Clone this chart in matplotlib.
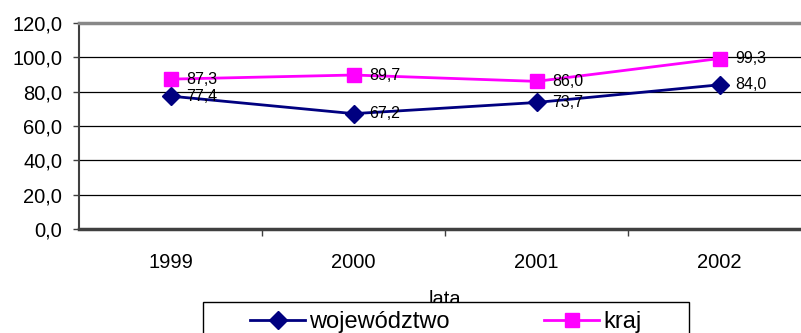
import matplotlib.pyplot as plt
from matplotlib.patches import Rectangle
from matplotlib.ticker import FixedLocator, FuncFormatter

plt.rcParams['font.family'] = ['Liberation Sans', 'DejaVu Sans']

lata = ['1999', '2000', '2001', '2002']
wojewodztwo = [77.4, 67.2, 73.7, 84.0]
kraj = [87.3, 89.7, 86.0, 99.3]


def przecinek(v):
    return f"{v:.1f}".replace('.', ',')


fig = plt.figure(figsize=(8.01, 3.33), dpi=100)
W, H = 801, 333
ax = fig.add_axes([79 / W, (H - 229) / H, 732 / W, 206 / H])

x = range(len(lata))
ax.plot(x, wojewodztwo, color='#000080', lw=2, marker='D', markersize=9,
        label='województwo', zorder=3)
ax.plot(x, kraj, color='#FF00FF', lw=2, marker='s', markersize=10,
        label='kraj', zorder=3)

# etykiety danych
for i in x:
    ax.annotate(przecinek(wojewodztwo[i]), (i, wojewodztwo[i]), xytext=(11, 0),
                textcoords='offset points', va='center', ha='left', fontsize=11.5)
    ax.annotate(przecinek(kraj[i]), (i, kraj[i]), xytext=(11, 0),
                textcoords='offset points', va='center', ha='left', fontsize=11.5)

ax.set_xlim(-0.5, len(lata) - 0.5)
ax.set_ylim(0, 120)
ax.set_yticks(range(0, 121, 20))
ax.yaxis.set_major_formatter(FuncFormatter(lambda v, p: przecinek(v)))
ax.grid(axis='y', color='black', lw=0.9)
ax.set_axisbelow(True)

# kreski między kategoriami, etykiety w środku
ax.xaxis.set_major_locator(FixedLocator([0.5, 1.5, 2.5, 3.5]))
ax.xaxis.set_major_formatter(FuncFormatter(lambda v, p: ''))
ax.xaxis.set_minor_locator(FixedLocator(list(x)))
ax.set_xticklabels(lata, minor=True)
ax.tick_params(axis='x', which='major', length=5, width=1, color='#404040', direction='out')
ax.tick_params(axis='x', which='minor', length=0, pad=17, labelsize=14.5)
ax.tick_params(axis='y', length=4, width=1, color='#404040', pad=8, labelsize=14.5)

ax.spines['top'].set_color('#888888')
ax.spines['top'].set_linewidth(2.5)
ax.spines['left'].set_color('#404040')
ax.spines['left'].set_linewidth(1.5)
ax.spines['bottom'].set_color('#404040')
ax.spines['bottom'].set_linewidth(2.5)
ax.spines['right'].set_visible(False)

ax.set_xlabel('lata', fontsize=14.5, labelpad=13)

# ramka legendy (wychodzi poza dolną krawędź)
ramka = Rectangle((203 / W, 1 - 346 / H), 486 / W, 44 / H, transform=fig.transFigure,
                  facecolor='white', edgecolor='black', lw=1, zorder=4)
fig.patches.append(ramka)

fig.legend(loc='center', bbox_to_anchor=(446 / W, 1 - 322 / H),
           ncol=2, fontsize=17, frameon=False, borderaxespad=0, handlelength=2.3,
           handletextpad=0.2, columnspacing=4.0)

fig.savefig('out.png', dpi=100)
